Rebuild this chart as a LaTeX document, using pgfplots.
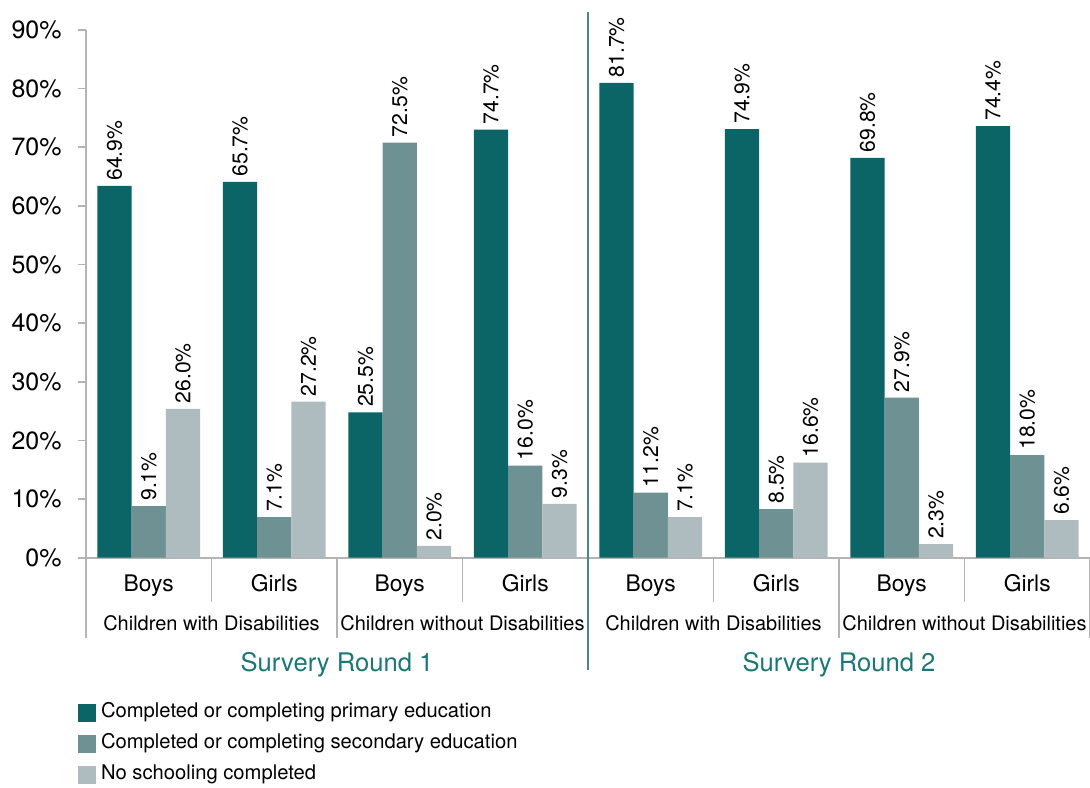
\documentclass[border=0pt]{standalone}
\usepackage{pgfplots}
\pgfplotsset{compat=1.18}
\usepackage{fontspec}
\setmainfont{TeX Gyre Heros}

\definecolor{cA}{HTML}{0B6567}
\definecolor{cB}{HTML}{6E9194}
\definecolor{cC}{HTML}{AEBBBF}
\definecolor{cT}{HTML}{1B7777}
\definecolor{cL}{HTML}{4F8585}
\definecolor{cG}{HTML}{B4B4B4}

\begin{document}
\begin{tikzpicture}
\path[use as bounding box] (-43pt,-114.65pt) rectangle (502pt,278.85pt);
\begin{axis}[
    at={(0,0)}, anchor=south west,
    scale only axis, width=502pt, height=263.85pt,
    ymin=0, ymax=90, xmin=-0.5, xmax=7.5,
    ybar=0pt, bar width=0.273,
    clip=false,
    axis lines*=left,
    axis line style={cG, line width=0.8pt},
    ytick={0,10,...,90},
    yticklabels={0\%,10\%,20\%,30\%,40\%,50\%,60\%,70\%,80\%,90\%},
    yticklabel style={font=\fontsize{12.5}{14}\selectfont, inner sep=0pt, xshift=-8pt},
    ytick style={cG, line width=0.8pt},
    tick align=outside, major tick length=4pt,
    xtick={0,...,7},
    xticklabels={Boys,Girls,Boys,Girls,Boys,Girls,Boys,Girls},
    xtick style={draw=none},
    xticklabel style={font=\fontsize{11.4}{13}\selectfont, anchor=base, inner sep=0pt, yshift=-12.65pt},
    point meta=explicit symbolic,
    nodes near coords={\pgfplotspointmeta\%},
    nodes near coords style={rotate=90, anchor=west, inner xsep=2.5pt, inner ysep=0pt,
        font=\fontsize{10.6}{12}\selectfont, black},
    legend style={at={(0,0)}, anchor=north west, xshift=-4pt, yshift=-73pt,
        draw=none, fill=none, inner sep=0pt, outer sep=0pt, row sep=6.5pt,
        font=\fontsize{10.1}{11}\selectfont,
        nodes={inner xsep=2.5pt, inner ysep=0pt, text height=7pt, text depth=2pt}},
    legend cell align=left,
    legend image code/.code={\fill[#1] (0pt,-4.5pt) rectangle (9pt,4.5pt);},
]
\addplot[fill=cA, draw=none] coordinates {(0,63.4)[64.9] (1,64.1)[65.7] (2,24.8)[25.5] (3,73.0)[74.7] (4,81.0)[81.7] (5,73.1)[74.9] (6,68.2)[69.8] (7,73.6)[74.4]};
\addplot[fill=cB, draw=none] coordinates {(0,8.8)[9.1] (1,6.9)[7.1] (2,70.8)[72.5] (3,15.7)[16.0] (4,11.1)[11.2] (5,8.3)[8.5] (6,27.3)[27.9] (7,17.5)[18.0]};
\addplot[fill=cC, draw=none] coordinates {(0,25.4)[26.0] (1,26.6)[27.2] (2,2.0)[2.0] (3,9.2)[9.3] (4,6.9)[7.1] (5,16.2)[16.6] (6,2.3)[2.3] (7,6.4)[6.6]};
\legend{Completed or completing primary education, Completed or completing secondary education, No schooling completed}

% separators below the axis
\pgfplotsinvokeforeach{0.5,2.5,4.5,6.5}{
  \draw[cG, line width=0.8pt] (axis cs:#1,0) -- ([yshift=-22.15pt]axis cs:#1,0);
}
\pgfplotsinvokeforeach{-0.5,1.5,5.5,7.5}{
  \draw[cG, line width=0.8pt] (axis cs:#1,0) -- ([yshift=-40.2pt]axis cs:#1,0);
}
\draw[cL, line width=1.1pt] ([yshift=272.9pt]axis cs:3.5,0) -- ([yshift=-56.2pt]axis cs:3.5,0);

% group labels
\node[anchor=base, inner sep=0pt, font=\fontsize{10}{11}\selectfont, yshift=-36.15pt]
  at (axis cs:0.5,0) {Children with Disabilities};
\node[anchor=base, inner sep=0pt, font=\fontsize{10}{11}\selectfont, yshift=-36.15pt]
  at (axis cs:2.5,0) {Children without Disabilities};
\node[anchor=base, inner sep=0pt, font=\fontsize{10}{11}\selectfont, yshift=-36.15pt]
  at (axis cs:4.5,0) {Children with Disabilities};
\node[anchor=base, inner sep=0pt, font=\fontsize{10}{11}\selectfont, yshift=-36.15pt]
  at (axis cs:6.5,0) {Children without Disabilities};
\node[anchor=base, inner sep=0pt, text=cT, font=\fontsize{12.8}{14}\selectfont, yshift=-56.8pt]
  at (axis cs:1.5,0) {Survery Round 1};
\node[anchor=base, inner sep=0pt, text=cT, font=\fontsize{12.8}{14}\selectfont, yshift=-56.8pt]
  at (axis cs:5.5,0) {Survery Round 2};
\end{axis}
\end{tikzpicture}
\end{document}
